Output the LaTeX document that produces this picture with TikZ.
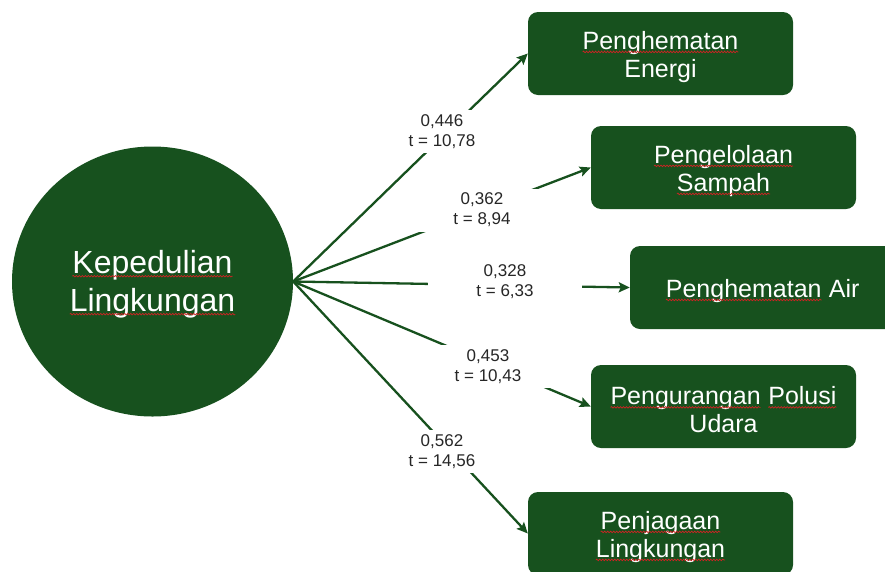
\documentclass[tikz,border=0pt]{standalone}
\usepackage{fontspec}
\setmainfont{Liberation Sans}
\usetikzlibrary{shapes.geometric,arrows.meta,decorations.pathmorphing}
\definecolor{dgreen}{RGB}{23,81,30}
\definecolor{lbl}{RGB}{38,38,38}
\definecolor{squig}{RGB}{205,35,35}
\tikzset{
  sqline/.style={draw=squig,line width=0.7pt,sharp corners,decorate,decoration={snake,amplitude=0.8pt,segment length=3pt}},
  sqword/.style={shape=rectangle,inner sep=0pt,outer sep=0pt,fill=none,draw=none,text=white,anchor=base,minimum width=0pt,minimum height=0pt,sharp corners}
}
\newcommand\sq[1]{\tikz[baseline=(sqw.base)]{\node[sqword](sqw){#1};\draw[sqline]([yshift=-2.5pt]sqw.base west)--([yshift=-2.5pt]sqw.base east);}}
\newcommand\boxstrut{\rule{0pt}{25pt}}
\newcommand\hubstrut{\rule{0pt}{29pt}}
\begin{document}
\begin{tikzpicture}[x=1pt,y=-1pt,
  boxn/.style={draw=none,fill=dgreen,rounded corners=10pt,minimum width=265pt,minimum height=83pt,text=white,align=center,font=\fontsize{25}{28}\selectfont,inner sep=0pt},
  hubn/.style={ellipse,fill=dgreen,minimum width=281pt,minimum height=270pt,inner sep=0pt,text=white,align=center,font=\fontsize{32}{38}\selectfont},
  lab/.style={fill=white,minimum width=154pt,minimum height=43pt,inner sep=0pt,text=lbl,align=center,font=\fontsize{17}{20}\selectfont},
  conn/.style={draw=dgreen,line width=2.3pt,-{Stealth[length=11pt,width=10pt,inset=2pt]}}
]
\clip (0,0) rectangle (885,571);
\node[hubn] (hub) at (152.5,281.5) {\hubstrut\sq{Kepedulian}\\\sq{Lingkungan}};
\node[boxn] (b1) at (660.5,53.5) {\boxstrut\sq{Penghematan}\\Energi};
\node[boxn] (b2) at (723.5,167.5) {\boxstrut\sq{Pengelolaan}\\\sq{Sampah}};
\node[boxn] (b3) at (762.5,287.5) {\boxstrut\sq{Penghematan} Air};
\node[boxn] (b4) at (723.5,406.5) {\boxstrut\sq{Pengurangan} \sq{Polusi}\\Udara};
\node[boxn] (b5) at (660.5,533.5) {\boxstrut\sq{Penjagaan}\\\sq{Lingkungan}};
\draw[conn] (hub.east) -- (b1.west);
\draw[conn] (hub.east) -- (b2.west);
\draw[conn] (hub.east) -- (b3.west);
\draw[conn] (hub.east) -- (b4.west);
\draw[conn] (hub.east) -- (b5.west);
\node[lab] (l1) at (442,131.5) {0,446\\t = 10,78};
\node[lab] (l2) at (482,210) {0,362\\t = 8,94};
\node[lab] (l3) at (505,282) {0,328\\t = 6,33};
\node[lab] (l4) at (488,366.5) {0,453\\t = 10,43};
\node[lab] (l5) at (442,451.5) {0,562\\t = 14,56};
\end{tikzpicture}
\end{document}
